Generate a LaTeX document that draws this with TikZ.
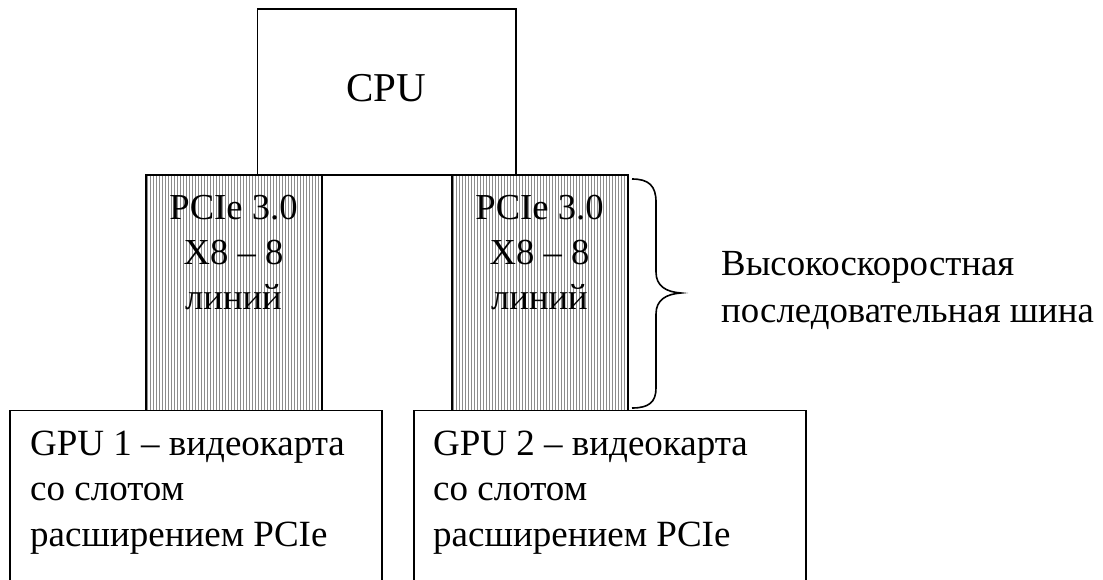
\documentclass[tikz,border=0pt]{standalone}
\usepackage{fontspec}
\setmainfont{Liberation Serif}
\begin{document}
\begin{tikzpicture}[x=1pt,y=-1pt,
  box/.style={draw=black,line width=1.6pt,fill=white,inner sep=0pt,outer sep=0pt,anchor=north west},
  hatchline/.style={draw=black!45,line width=1.2pt},
  bar/.style={box,path picture={
      \foreach \i in {0,...,60}{
        \draw[hatchline] ([xshift=\i*3pt+1.6pt]path picture bounding box.north west) -- ([xshift=\i*3pt+1.6pt]path picture bounding box.south west);
      }}},
  cputxt/.style={font=\fontsize{41}{46}\selectfont,anchor=base,inner sep=0pt},
  bartxt/.style={font=\fontsize{36.6}{44}\selectfont,anchor=base,inner sep=0pt},
  gputxt/.style={font=\fontsize{37}{45}\selectfont,anchor=base west,inner sep=0pt},
  bracetxt/.style={font=\fontsize{36.8}{45}\selectfont,anchor=base west,inner sep=0pt},
  bracepath/.style={draw=black,line width=1.6pt}
]
\useasboundingbox (0,0) rectangle (1103,580);
\clip (0,0) rectangle (1103,580);

% CPU
\node[box,minimum width=258.5pt,minimum height=166pt] (cpu) at (257.5,9) {};
\node[cputxt] (cputext) at (386.5,101.5) {CPU};

% PCIe bars
\node[bar,minimum width=176pt,minimum height=235.5pt] (bar1) at (146,175) {};
\node[bar,minimum width=176pt,minimum height=235.5pt] (bar2) at (452,175) {};
\node[bartxt] (b1l1) at (233.5,219) {PCIe 3.0};
\node[bartxt] (b1l2) at (233.5,264) {X8 – 8};
\node[bartxt] (b1l3) at (233.5,309) {линий};
\node[bartxt] (b2l1) at (539.5,219) {PCIe 3.0};
\node[bartxt] (b2l2) at (539.5,264) {X8 – 8};
\node[bartxt] (b2l3) at (539.5,309) {линий};

% GPU boxes
\node[box,minimum width=372pt,minimum height=200pt] (gpu1) at (10,410.5) {};
\node[box,minimum width=392pt,minimum height=200pt] (gpu2) at (414,410.5) {};
\node[gputxt] (g1l1) at (30,455) {GPU 1 – видеокарта};
\node[gputxt] (g1l2) at (30,500.5) {со слотом};
\node[gputxt] (g1l3) at (30,546.5) {расширением PCIe};
\node[gputxt] (g2l1) at (433,455) {GPU 2 – видеокарта};
\node[gputxt] (g2l2) at (433,500.5) {со слотом};
\node[gputxt] (g2l3) at (433,546.5) {расширением PCIe};

% brace
\coordinate (bt) at (632,179);
\coordinate (bb) at (632,408);
\coordinate (btip) at (681,293);
\draw[bracepath] (bt) .. controls (649,179) and (656,186) .. (656,202)
  -- (656,272) .. controls (656,286) and (666,292) .. (btip)
  .. controls (666,294) and (656,300) .. (656,314)
  -- (656,388) .. controls (656,402) and (649,408) .. (bb);
\node[bracetxt] (bl1) at (721,276) {Высокоскоростная};
\node[bracetxt] (bl2) at (721,322) {последовательная шина};
\end{tikzpicture}
\end{document}
